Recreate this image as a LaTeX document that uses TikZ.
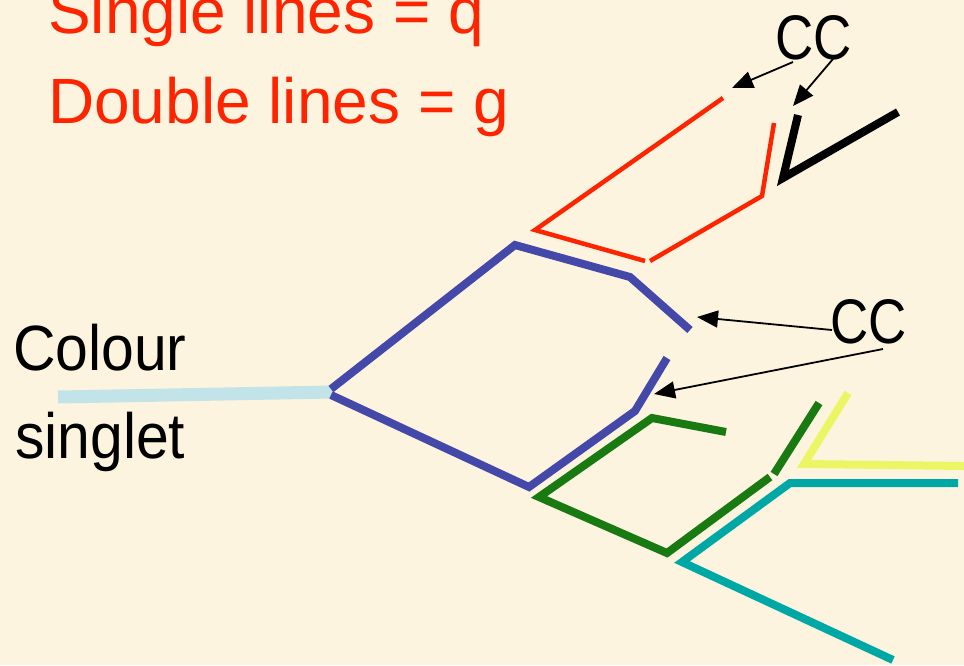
\documentclass[tikz,border=0pt]{standalone}
\usepackage{fontspec}
\setmainfont{Liberation Sans}
\usetikzlibrary{arrows.meta}
\definecolor{bgcol}{RGB}{253,244,224}
\definecolor{qred}{RGB}{255,36,0}
\definecolor{qblue}{RGB}{68,72,168}
\definecolor{qgreen}{RGB}{26,122,18}
\definecolor{qcyan}{RGB}{0,168,165}
\definecolor{qyellow}{RGB}{236,245,100}
\definecolor{qsinglet}{RGB}{194,228,232}
\begin{document}
\begin{tikzpicture}[x=1pt,y=-1pt,
  bigtext/.style={inner sep=0pt, anchor=base west, font=\fontsize{64}{70}\selectfont},
  cctext/.style={inner sep=0pt, anchor=base west, font=\fontsize{63}{68}\selectfont},
  ccarrow/.style={draw=black, line width=1.8pt, -{Triangle[length=21pt,width=17pt]}},
  gluon/.style={line width=8pt, line cap=butt, line join=miter},
  quark/.style={line width=4.5pt, line cap=butt, line join=miter}]
\fill[bgcol] (0,0) rectangle (964,665);
\useasboundingbox (0,0) rectangle (964,665);

% legend
\node[bigtext, text=qred] (single) at (48,33) {Single lines = q};
\node[bigtext, text=qred] (double) at (48,123) {Double lines = g};
\node[bigtext] (colour) at (13,370) {\scalebox{0.92}[1]{Colour}};
\node[bigtext] (singlet) at (15,458) {\scalebox{0.92}[1]{singlet}};
\node[cctext] (cctop) at (775,59) {\scalebox{0.84}[1]{CC}};
\node[cctext] (ccmid) at (830,343) {\scalebox{0.84}[1]{CC}};

% colour singlet line
\draw[qsinglet, line width=13pt, line cap=butt] (58,397) -- (333,392);

% blue gluons
\draw[qblue, gluon] (331,389) -- (515,245) -- (630,277) -- (690,330);
\draw[qblue, gluon] (331,395) -- (529,487) -- (635,411) -- (667,358);

% red quarks
\draw[qred, quark] (723,98) -- (535,230) -- (645,261);
\draw[qred, quark] (650,261) -- (762,196) -- (774,123);

% black gluon
\draw[black, line width=8pt, line join=miter] (798,115) -- (783,178) -- (898,112);

% green gluons
\draw[qgreen, gluon] (726,432) -- (652,418) -- (539,497) -- (667,553) -- (770,477);
\draw[qgreen, gluon] (774,474) -- (819,403);

% yellow
\draw[qyellow, gluon] (848,393) -- (804,464) -- (964,466);

% cyan
\draw[qcyan, gluon] (893,660) -- (682,562) -- (790,483) -- (958,483);

% arrows
\coordinate (a1s) at (793,62);
\coordinate (a1e) at (732,88);
\coordinate (a2s) at (833,59);
\coordinate (a2e) at (793,106);
\coordinate (a3s) at (832,330);
\coordinate (a3e) at (697,317);
\coordinate (a4s) at (883,349);
\coordinate (a4e) at (654,394);
\draw[ccarrow] (a1s) -- (a1e);
\draw[ccarrow] (a2s) -- (a2e);
\draw[ccarrow] (a3s) -- (a3e);
\draw[ccarrow] (a4s) -- (a4e);
\end{tikzpicture}
\end{document}
